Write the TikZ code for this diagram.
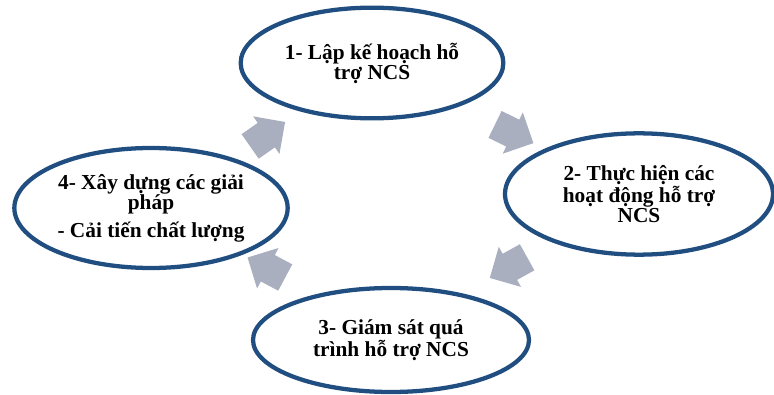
\documentclass[tikz,border=0pt]{standalone}
\usepackage{fontspec}
\setmainfont{Liberation Serif}
\usetikzlibrary{shapes.geometric,shapes.arrows,calc}
\definecolor{ringblue}{RGB}{32,78,128}
\definecolor{flowgray}{RGB}{170,175,192}

\begin{document}
\begin{tikzpicture}[x=0.75pt,y=-0.75pt]
        \tikzset{stage/.style={ellipse, draw=ringblue, line width=3.2pt, fill=white, align=center, inner sep=0pt,
                font=\fontsize{16pt}{15pt}\selectfont\bfseries},
                flow/.style={single arrow, fill=flowgray, draw=none, single arrow head extend=6pt,
                inner xsep=0pt, inner ysep=11pt, minimum height=32pt}}
        \useasboundingbox (0,0) rectangle (774,395);
        % the four stages of the cycle
        \node[stage, minimum width=197pt, minimum height=83pt] (plan) at (372,63) {1- Lập kế hoạch hỗ\\ trợ NCS};
        \node[stage, minimum width=201pt, minimum height=91pt] (act) at (639,194) {2- Thực hiện các\\ hoạt động hỗ trợ\\ NCS};
        \node[stage, minimum width=207pt, minimum height=78pt] (monitor) at (391,340) {3- Giám sát quá\\ trình hỗ trợ NCS};
        \node[stage, minimum width=205pt, minimum height=90pt] (improve) at (151,208) {4- Xây dựng các giải\\ pháp\\[5pt] - Cải tiến chất lượng};
        
        % block arrows between the stages
        \node[flow, rotate=35] (improve-plan) at ($(improve)!0.5!(plan)+(0,3)$) {};
        \node[flow, rotate=-26] (plan-act) at ($(plan)!0.5!(act)+(2,2)$) {};
        \node[flow, rotate=209] (act-monitor) at ($(act)!0.5!(monitor)+(0,-3)$) {};
        \node[flow, rotate=152] (monitor-improve) at ($(monitor)!0.5!(improve)+(2,-3)$) {};
\end{tikzpicture}
\end{document}
